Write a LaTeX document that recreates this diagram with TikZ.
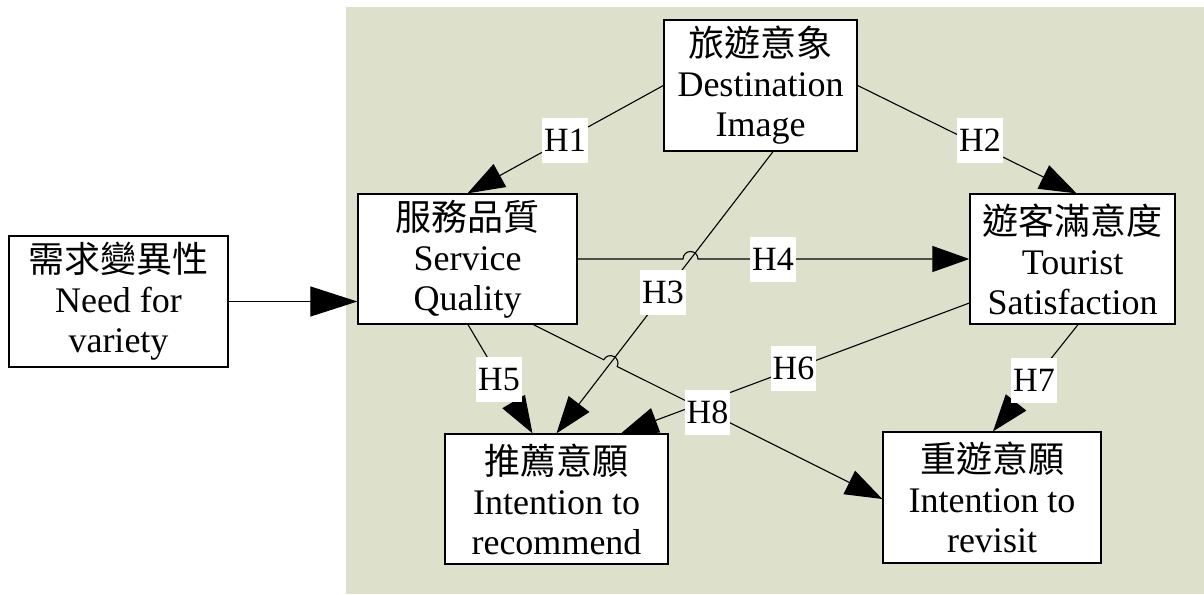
\documentclass[tikz,border=0pt]{standalone}
\usepackage{fontspec}
\setmainfont{Liberation Serif}
\newfontfamily\cjk{Noto Sans CJK TC}
\usetikzlibrary{arrows.meta,calc,intersections}

\definecolor{panel}{RGB}{221,224,203}

\begin{document}
\begin{tikzpicture}[x=1pt,y=-1pt,
  box/.style={draw=black, line width=1.3pt, fill=white, align=center,
    inner sep=0pt, font=\fontsize{36}{40}\selectfont},
  link/.style={line width=1.1pt, -{Triangle[length=37pt,width=26pt]}},
  biglink/.style={line width=1.1pt, -{Triangle[length=47pt,width=30pt]}},
  hyp/.style={fill=white, inner xsep=2pt, inner ysep=0pt,
    minimum height=45pt, font=\fontsize{34}{34}\selectfont}]

\useasboundingbox (0,0) rectangle (1204,594);
\fill[panel] (346,7) rectangle (1204,594);

% constructs
\node[box, minimum width=219pt, minimum height=131pt] (need) at (118.5,301.5)
  {{\cjk 需求變異性}\\Need for\\variety};
\node[box, minimum width=219pt, minimum height=130pt] (sq) at (467.5,259)
  {{\cjk 服務品質}\\Service\\Quality};
\node[box, minimum width=193pt, minimum height=131pt] (di) at (760.5,85.5)
  {{\cjk 旅遊意象}\\Destination\\Image};
\node[box, minimum width=205pt, minimum height=130pt] (ts) at (1072.5,259)
  {{\cjk 遊客滿意度}\\Tourist\\Satisfaction};
\node[box, minimum width=223pt, minimum height=130pt] (ir) at (556.5,499)
  {{\cjk 推薦意願}\\Intention to\\recommend};
\node[box, minimum width=218pt, minimum height=131pt] (rv) at (992,497.5)
  {{\cjk 重遊意願}\\Intention to\\revisit};

% end points on the box borders
\coordinate (h3a) at ([xshift=12.5pt]di.south);
\coordinate (h3b) at (ir.north);
\coordinate (h8a) at ([xshift=66pt]sq.south);
\coordinate (h8b) at ([yshift=-1.5pt]rv.west);

% crossing points for the line hops
\path[name path=p3] (h3a) -- (h3b);
\path[name path=p4] (sq.east) -- (ts.west);
\path[name path=p8] (h8a) -- (h8b);
\path[name intersections={of=p3 and p4, by=x34}];
\path[name intersections={of=p3 and p8, by=x38}];

% hypothesised paths
\draw[biglink] (need.east) -- (need.east -| sq.west);
\draw[link] (di.west) -- (sq.north);
\draw[link] (di.east) -- ([xshift=4pt]ts.north);
\draw[link] (h3a) -- (h3b);
\draw[link] (sq.east) -- ([xshift=-7.5pt]x34 |- sq.east)
  arc[start angle=180, end angle=0, radius=7.5pt] -- (ts.west);
\draw[link] ([xshift=0.5pt]sq.south) -- ([xshift=-24pt]ir.north);
\draw[link] ([yshift=-44pt]ts.west) -- ([xshift=64.5pt]ir.north);
\draw[link] ([xshift=5.5pt]ts.south) -- ([xshift=1pt]rv.north);
\draw[link] (h8a) -- ($(x38)!7.5pt!(h8a)$)
  arc[start angle=153.4, end angle=-26.6, radius=7.5pt] -- (h8b);

% hypothesis labels
\node[hyp] (l1) at (565,140) {H1};
\node[hyp] (l2) at (980,140) {H2};
\node[hyp] (l3) at (663,292) {H3};
\node[hyp] (l4) at (773,259) {H4};
\node[hyp] (l5) at (499,379.5) {H5};
\node[hyp] (l6) at (793.5,368) {H6};
\node[hyp] (l7) at (1034,380) {H7};
\node[hyp] (l8) at (707.5,412) {H8};
\end{tikzpicture}
\end{document}
